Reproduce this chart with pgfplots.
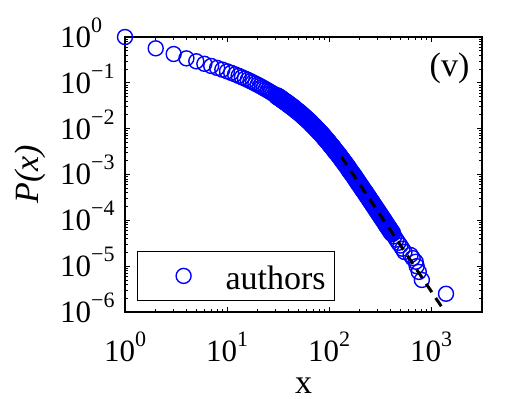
\documentclass[border=0pt]{standalone}
\usepackage{fontspec}
\setmainfont{Liberation Serif}
\usepackage{pgfplots}
\pgfplotsset{compat=1.18}
% exponent of a power-of-ten tick label
\newcommand{\ex}[1]{\raisebox{15pt}{\fontsize{22}{22}\selectfont #1}}

% P(x) for authors: sparse head, dense middle, sparse tail
\pgfplotstableread{
x y
1 1
2 0.566
3 0.4256
4 0.342
5 0.295
6 0.260
7 0.2333
8 0.2118
9 0.1941
10 0.1786
11 0.1652
12 0.1531
13 0.1422
14 0.1324
15 0.1239
16 0.1159
17 0.1086
18 0.1021
19 0.0959
20 0.0906
21 0.0855
22 0.0807
23 0.0762
24 0.0724
25 0.0685
26 0.0652
27 0.0619
28 0.0590
29 0.0562
30 0.0536
}\headdata
\pgfplotstableread{
x y
30.90 5.129e-2
31.62 5.012e-2
32.36 4.786e-2
33.11 4.677e-2
33.88 4.467e-2
34.67 4.365e-2
35.48 4.169e-2
36.31 3.981e-2
37.15 3.890e-2
38.02 3.715e-2
38.90 3.631e-2
39.81 3.467e-2
40.74 3.311e-2
41.69 3.236e-2
42.66 3.090e-2
43.65 2.951e-2
44.67 2.884e-2
45.71 2.754e-2
46.77 2.630e-2
47.86 2.512e-2
48.98 2.399e-2
50.12 2.344e-2
51.29 2.239e-2
52.48 2.138e-2
53.70 2.042e-2
54.95 1.950e-2
56.23 1.862e-2
57.54 1.778e-2
58.88 1.698e-2
60.26 1.622e-2
61.66 1.549e-2
63.10 1.479e-2
64.57 1.413e-2
66.07 1.349e-2
67.61 1.259e-2
69.18 1.202e-2
70.79 1.148e-2
72.44 1.096e-2
74.13 1.023e-2
75.86 9.772e-3
77.62 9.333e-3
79.43 8.710e-3
81.28 8.318e-3
83.18 7.943e-3
85.11 7.413e-3
87.10 7.079e-3
89.13 6.607e-3
91.20 6.166e-3
93.33 5.888e-3
95.50 5.495e-3
97.72 5.248e-3
100.0 4.898e-3
102.3 4.571e-3
104.7 4.266e-3
107.2 4.074e-3
109.6 3.802e-3
112.2 3.548e-3
114.8 3.311e-3
117.5 3.090e-3
120.2 2.951e-3
123.0 2.754e-3
125.9 2.570e-3
128.8 2.399e-3
131.8 2.239e-3
134.9 2.089e-3
138.0 1.950e-3
141.3 1.820e-3
144.5 1.698e-3
147.9 1.585e-3
151.4 1.479e-3
154.9 1.380e-3
158.5 1.259e-3
162.2 1.175e-3
166.0 1.096e-3
169.8 1.023e-3
173.8 9.550e-4
177.8 8.913e-4
182.0 8.128e-4
186.2 7.586e-4
190.5 7.079e-4
195.0 6.457e-4
199.5 6.026e-4
204.2 5.623e-4
208.9 5.248e-4
213.8 4.786e-4
218.8 4.467e-4
223.9 4.169e-4
229.1 3.890e-4
234.4 3.548e-4
239.9 3.311e-4
245.5 3.090e-4
251.2 2.818e-4
257.0 2.630e-4
263.0 2.455e-4
269.2 2.239e-4
275.4 2.089e-4
281.8 1.950e-4
288.4 1.778e-4
295.1 1.660e-4
302.0 1.549e-4
309.0 1.413e-4
316.2 1.318e-4
323.6 1.230e-4
331.1 1.122e-4
338.8 1.047e-4
346.7 9.772e-5
354.8 8.913e-5
363.1 8.318e-5
371.5 7.586e-5
380.2 7.079e-5
389.0 6.607e-5
398.1 6.026e-5
407.4 5.623e-5
416.9 5.248e-5
}\middata
\pgfplotstableread{
x y
436.5 4.467e-5
457.1 3.802e-5
478.6 3.236e-5
501.2 2.818e-5
524.8 2.399e-5
549.5 2.042e-5
631 1.75e-5
661 1.5e-5
708 1.25e-5
724 1.0e-5
759 7.5e-6
813 5.0e-6
1403 2.5e-6
}\taildata

\begin{document}
\begin{tikzpicture}
\begin{axis}[
  set layers,
  at={(125pt,87pt)}, anchor=south west,
  scale only axis, width=357pt, height=275pt,
  xmode=log, ymode=log,
  xmin=1, xmax=3162.3, ymin=1e-6, ymax=1,
  xtick={1,10,100,1000},
  xticklabels={10\ex{0},10\ex{1},10\ex{2},10\ex{3}},
  ytick={1e-6,1e-5,1e-4,1e-3,1e-2,1e-1,1},
  yticklabels={10\ex{−6},10\ex{−5},10\ex{−4},10\ex{−3},10\ex{−2},10\ex{−1},10\ex{0}},
  tick align=inside,
  major tick length=5pt, minor tick length=3pt,
  every tick/.style={black, line width=0.8pt},
  axis line style={line width=1.2pt},
  xticklabel style={font=\rmfamily\fontsize{31}{31}\selectfont, anchor=base, inner sep=0pt, yshift=-50pt},
  yticklabel style={font=\rmfamily\fontsize{31}{31}\selectfont, anchor=base west, inner sep=0pt, xshift=-65pt, yshift=-10.5pt},
  xlabel={x},
  xlabel style={at={(axis description cs:0.5,-0.295)}, anchor=base, inner sep=0pt, font=\fontsize{34}{34}\selectfont},
  ylabel={\textit{P(x)}},
  ylabel style={at={(axis description cs:-0.266,0.5)}, anchor=center, inner sep=0pt, font=\fontsize{34}{34}\selectfont},
  clip=false,
  legend style={at={(0.0336,0.04)}, anchor=south west, draw=black, line width=1.2pt,
    fill=white, inner xsep=9pt, inner ysep=8pt, column sep=12pt,
    font=\fontsize{34}{34}\selectfont,
    nodes={inner sep=0pt, text height=30pt, text depth=3pt}},
  legend image code/.code={\path[draw=none] (0pt,0pt) -- (67pt,0pt);
    \draw[#1] plot coordinates {(37pt,0pt)};},
  data/.style={only marks, mark=o, mark size=7.5pt, color=blue},
]
\addplot[data, line width=1.4pt] table {\headdata};
\addlegendentry{authors}
\addplot[data, line width=3pt, forget plot] table {\middata};
\addplot[data, line width=1.4pt, forget plot] table {\taildata};
% power-law fit to the tail, drawn above the markers
\addplot[on layer=axis foreground, black, line width=3pt, dash pattern=on 10pt off 7pt, forget plot]
  coordinates {(131.8,2.455e-3) (1318,1.148e-6)};
\node[font=\fontsize{34}{34}\selectfont] at (rel axis cs:0.909,0.887) {(v)};
\end{axis}
% page frame
\path (0,0) rectangle (509pt,399pt);
\end{tikzpicture}
\end{document}
